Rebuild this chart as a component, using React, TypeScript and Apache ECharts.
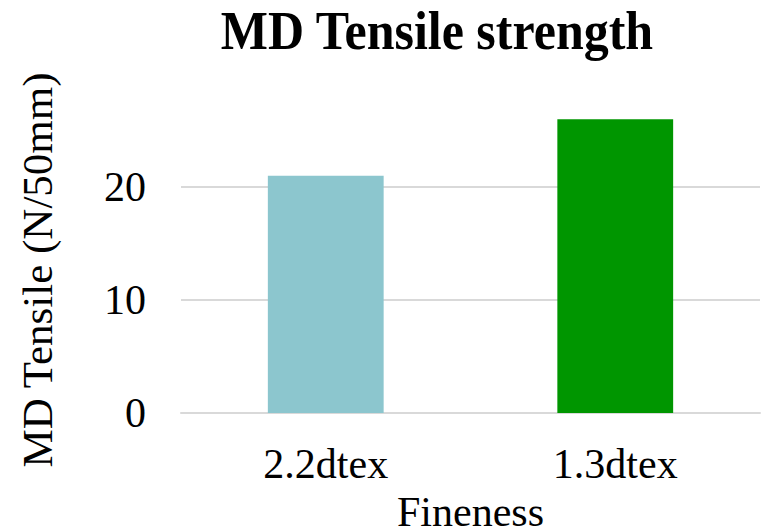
import { useEffect, useRef } from 'react';
import * as echarts from 'echarts';

// Fibre fineness categories and their machine-direction tensile strength (N/50mm)
const categories = ['2.2dtex', '1.3dtex'];
const tensileValues = [21, 26];
const barColors = ['#8cc6ce', '#009600'];

// Value axis range and step
const yMin = 0;
const yMax = 30;
const yStep = 10;

const FONT = '"Liberation Serif", "Times New Roman", serif';

export default function App() {
  const ref = useRef<HTMLDivElement>(null);

  useEffect(() => {
    if (!ref.current) return;
    const chart = echarts.init(ref.current, undefined, { renderer: 'svg' });
    chart.setOption({
      animation: false,
      backgroundColor: '#ffffff',
      textStyle: { fontFamily: FONT },
      grid: { left: 181, right: 9, top: 74, bottom: 119, outerBoundsMode: 'none' },
      xAxis: {
        type: 'category',
        data: categories,
        axisTick: { show: false },
        axisLine: { lineStyle: { color: '#d9d9d9', width: 2 } },
        axisLabel: { fontSize: 42, color: '#000', margin: 30, fontFamily: FONT },
        name: 'Fineness',
        nameLocation: 'middle',
        nameGap: 82,
        nameTextStyle: { fontSize: 42, lineHeight: 34, color: '#000', fontFamily: FONT },
      },
      yAxis: {
        type: 'value',
        min: yMin,
        max: yMax,
        interval: yStep,
        axisLine: { show: false },
        axisTick: { show: false },
        axisLabel: { fontSize: 42, color: '#000', margin: 35, showMaxLabel: false, fontFamily: FONT },
        splitLine: { showMaxLine: false, lineStyle: { color: '#d9d9d9', width: 2 } },
      },
      graphic: [
        {
          // chart title, drawn slightly tall
          type: 'text',
          x: 437,
          y: 30,
          scaleY: 1.1,
          style: {
            text: 'MD Tensile strength',
            font: `bold 50px ${FONT}`,
            fill: '#000',
            align: 'center',
            verticalAlign: 'middle',
          },
        },
        {
          // value axis title
          type: 'text',
          x: 37,
          y: 270,
          rotation: Math.PI / 2,
          style: {
            text: 'MD Tensile (N/50mm)',
            font: `43px ${FONT}`,
            fill: '#000',
            align: 'center',
            verticalAlign: 'middle',
          },
        },
      ],
      series: [
        {
          type: 'bar',
          barWidth: '40%',
          data: tensileValues.map((v, i) => ({ value: v, itemStyle: { color: barColors[i] } })),
        },
      ],
    });
    return () => chart.dispose();
  }, []);

  return (
    <div
      ref={ref}
      style={{ position: 'fixed', left: 0, top: 0, width: 769, height: 532 }}
    />
  );
}
